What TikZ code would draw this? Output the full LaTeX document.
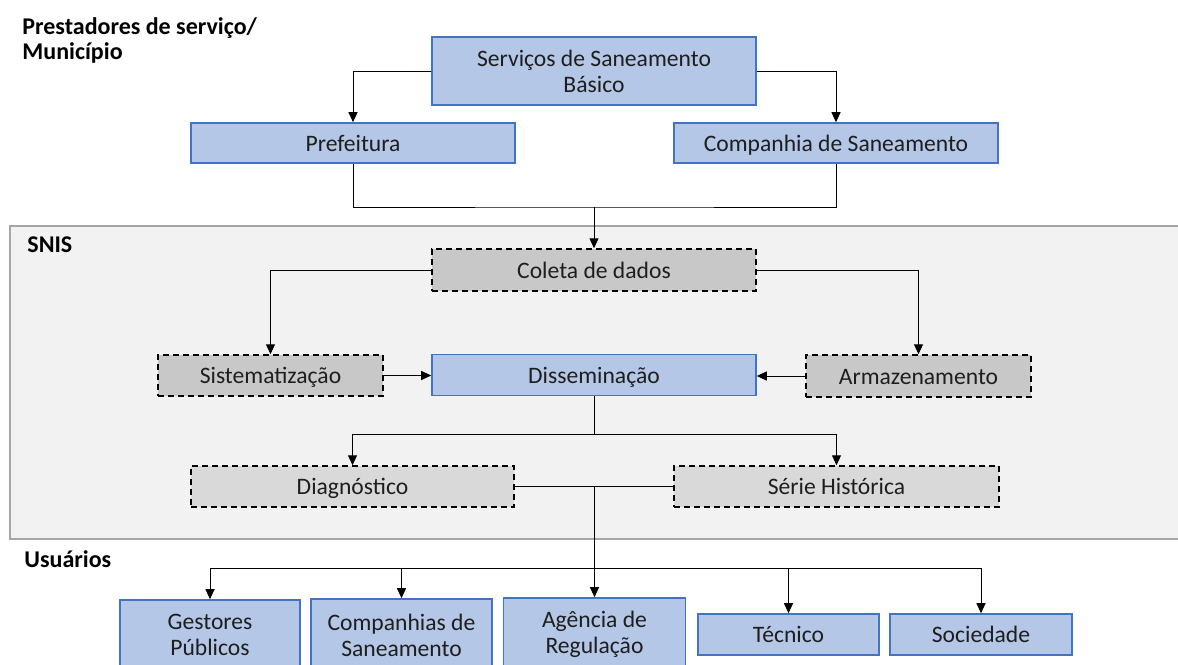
\documentclass[tikz,border=0pt]{standalone}
\usepackage{fontspec}
\setmainfont{Carlito}
\usetikzlibrary{arrows.meta}
\definecolor{boxblue}{RGB}{180,199,231}
\definecolor{edgeblue}{RGB}{68,114,196}
\definecolor{darkgrey}{RGB}{200,200,200}
\definecolor{lightgrey}{RGB}{217,217,217}
\definecolor{panelgrey}{RGB}{242,242,242}
\definecolor{panelline}{RGB}{166,166,166}
\definecolor{inkgrey}{RGB}{30,30,30}

\begin{document}
\begin{tikzpicture}[x=0.5pt,y=-0.5pt]

%
% Styles
%
\tikzstyle{txt} = [font=\fontsize{11.8}{13}\selectfont,text=inkgrey,align=center,inner sep=0pt]
\tikzstyle{oneline} = [text height=9.4pt,text depth=1.2pt]
\tikzstyle{blue} = [txt,rectangle,draw=edgeblue,fill=boxblue,line width=0.8pt]
\tikzstyle{dashgrey} = [txt,oneline,rectangle,draw=black,fill=darkgrey,dash pattern=on 3pt off 2pt,line width=0.75pt]
\tikzstyle{dashlight} = [dashgrey,fill=lightgrey]
\tikzstyle{head} = [font=\bfseries\fontsize{12}{12.5}\selectfont,text=black,align=left,inner sep=0pt,anchor=west]
\tikzstyle{arr} = [-{Triangle[length=5pt,width=4.5pt]},line width=0.5pt]
\tikzstyle{ln} = [line width=0.5pt]

\clip (0,0) rectangle (1178,664);
\fill[white] (0,0) rectangle (1178,664);
\draw[fill=panelgrey,draw=panelline,line width=0.6pt] (10,226) rectangle (1190,539);

\node[head] (prest) at (22,40) {Prestadores de serviço/\\Município};
\node[head] (snis) at (27,245) {SNIS};
\node[head] (usu) at (24,559) {Usuários};

% prestadores
\node[blue,minimum width=162pt,minimum height=34pt] (serv) at (594,71) {Serviços de Saneamento\\Básico};
\node[blue,oneline,minimum width=162pt,minimum height=20pt] (pref) at (353,143) {Prefeitura};
\node[blue,oneline,minimum width=162pt,minimum height=20pt] (comp) at (836,143) {Companhia de Saneamento};

% SNIS
\node[dashgrey,minimum width=162pt,minimum height=21pt] (coleta) at (594,270) {Coleta de dados};
\node[dashgrey,minimum width=112.5pt,minimum height=20.5pt] (sist) at (270.5,375.5) {Sistematização};
\node[blue,oneline,minimum width=162pt,minimum height=20.5pt] (dissem) at (594,375) {Disseminação};
\node[dashgrey,minimum width=112.5pt,minimum height=21pt] (armaz) at (918.5,376) {Armazenamento};
\node[dashlight,minimum width=161.5pt,minimum height=20.5pt] (diag) at (352.5,486.5) {Diagnóstico};
\node[dashlight,minimum width=162.5pt,minimum height=20.5pt] (serie) at (836.5,486.5) {Série Histórica};

% usuarios
\node[blue,minimum width=90pt,minimum height=35pt] (gest) at (210,635) {Gestores\\Públicos};
\node[blue,minimum width=90.5pt,minimum height=36pt] (compan) at (401.5,635) {Companhias de\\Saneamento};
\node[blue,minimum width=91pt,minimum height=36pt] (agenc) at (594.5,634) {Agência de\\Regulação};
\node[blue,oneline,minimum width=90.5pt,minimum height=20.5pt] (tecn) at (788.5,634.5) {Técnico};
\node[blue,oneline,minimum width=91pt,minimum height=20.5pt] (soc) at (981,634.5) {Sociedade};

\coordinate (j1) at (594,207);
\coordinate (j2) at (594,434);
\coordinate (j3) at (594.5,486.5);
\coordinate (j4) at (594.5,568);

\draw[arr] (serv.west) -| (pref.north);
\draw[arr] (serv.east) -| (comp.north);
\draw[ln] (pref.south) |- (j1) -| (comp.south);
\draw[arr] (j1) -- (coleta.north);
\draw[arr] (coleta.west) -| (sist.north);
\draw[arr] (coleta.east) -| (armaz.north);
\draw[arr] (sist.east) -- (sist.east -| dissem.west);
\draw[arr] (armaz.west) -- (armaz.west -| dissem.east);
\draw[ln] (dissem.south) -- (j2);
\draw[arr] (j2) -| (diag.north);
\draw[arr] (j2) -| (serie.north);
\draw[ln] (diag.east) -- (serie.west);
\draw[arr] (j3) -- (agenc.north);
\draw[arr] (j4) -| (gest.north);
\draw[arr] (j4) -| (compan.north);
\draw[arr] (j4) -| (tecn.north);
\draw[arr] (j4) -| (soc.north);

\end{tikzpicture}
\end{document}
